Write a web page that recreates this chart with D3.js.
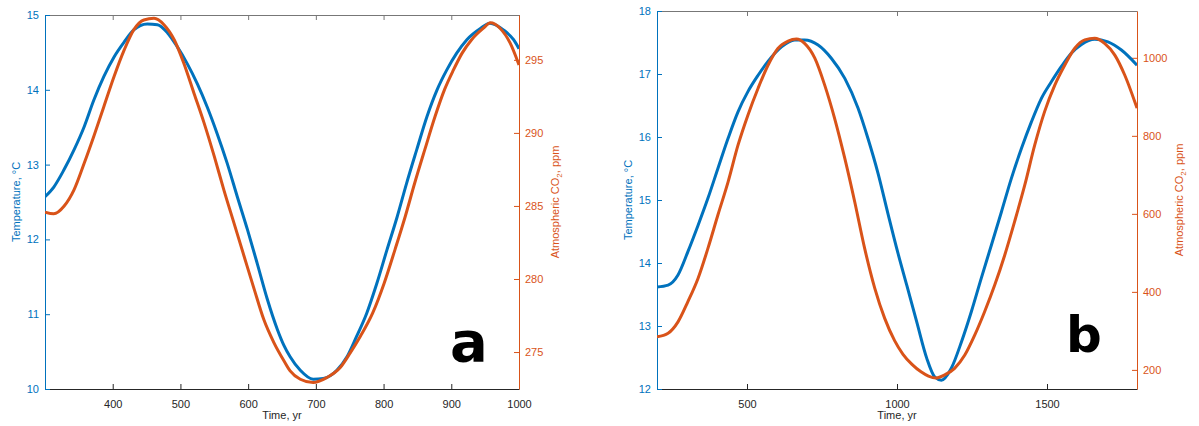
<!DOCTYPE html>
<html lang="en">
<head>
<meta charset="UTF-8">
<script src="https://d3js.org/d3.v7.min.js"></script>
<style>
  body { margin: 0; background: #fff; }
  svg text { font-family: "Liberation Sans", Arial, sans-serif; }
</style>
</head>
<body>
<svg id="chart" width="1199" height="426"></svg>
<script>
// ---- panel a data ----
var aTempYears = [300, 313, 328, 343, 358, 372, 387, 402, 417, 431, 451, 466, 481, 495, 510, 525, 540, 554, 569, 584, 599, 614, 628, 643, 653, 662, 677, 696, 711, 731, 746, 760, 775, 790, 805, 820, 834, 849, 864, 879, 893, 908, 923, 943, 957, 977, 992, 1000];
var aTemp = [12.57, 12.70, 12.93, 13.20, 13.51, 13.86, 14.18, 14.44, 14.64, 14.80, 14.88, 14.87, 14.76, 14.58, 14.35, 14.08, 13.76, 13.42, 13.02, 12.57, 12.13, 11.66, 11.21, 10.80, 10.58, 10.43, 10.25, 10.13, 10.14, 10.25, 10.43, 10.70, 11.01, 11.41, 11.86, 12.30, 12.75, 13.20, 13.64, 14.00, 14.26, 14.49, 14.67, 14.82, 14.89, 14.80, 14.67, 14.55];
var aCo2Years = [300, 313, 328, 343, 358, 372, 387, 402, 417, 431, 446, 461, 476, 491, 505, 520, 535, 550, 564, 579, 594, 609, 623, 638, 653, 662, 677, 696, 716, 736, 751, 766, 784, 801, 817, 832, 846, 861, 876, 890, 903, 916, 930, 947, 958, 972, 987, 1000];
var aCo2 = [284.57, 284.46, 284.98, 286.12, 287.94, 289.76, 291.81, 293.86, 295.68, 297.05, 297.73, 297.84, 297.39, 296.36, 294.77, 292.72, 290.67, 288.39, 286.12, 283.84, 281.56, 279.29, 277.24, 275.65, 274.39, 273.71, 273.14, 272.91, 273.25, 273.94, 274.96, 276.10, 277.68, 279.73, 282.03, 284.28, 286.57, 288.87, 291.12, 292.96, 294.29, 295.46, 296.38, 297.15, 297.54, 297.16, 296.14, 294.65];
var aXTicks = [400, 500, 600, 700, 800, 900, 1000];
var aTempTicks = [10, 11, 12, 13, 14, 15];
var aCo2Ticks = [275, 280, 285, 290, 295];

// ---- panel b data ----
var bTempYears = [200, 237, 270, 303, 337, 370, 403, 437, 470, 503, 537, 570, 615, 659, 692, 737, 781, 826, 870, 903, 937, 970, 1003, 1033, 1066, 1099, 1126, 1148, 1181, 1215, 1248, 1281, 1315, 1348, 1381, 1415, 1448, 1481, 1515, 1548, 1581, 1615, 1659, 1703, 1748, 1800];
var bTemp = [13.62, 13.65, 13.81, 14.18, 14.60, 15.03, 15.50, 15.98, 16.40, 16.72, 16.98, 17.20, 17.43, 17.54, 17.54, 17.46, 17.25, 16.93, 16.46, 15.98, 15.42, 14.78, 14.16, 13.64, 13.06, 12.49, 12.19, 12.14, 12.33, 12.75, 13.23, 13.76, 14.29, 14.81, 15.34, 15.82, 16.24, 16.61, 16.88, 17.12, 17.33, 17.47, 17.55, 17.51, 17.38, 17.14];
var bCo2Years = [200, 237, 270, 303, 337, 370, 403, 437, 470, 503, 537, 570, 603, 637, 665, 692, 726, 759, 792, 826, 859, 892, 926, 959, 992, 1020, 1050, 1080, 1105, 1130, 1159, 1192, 1226, 1259, 1292, 1326, 1359, 1392, 1426, 1459, 1492, 1526, 1559, 1592, 1626, 1659, 1692, 1726, 1759, 1800];
var bCo2 = [285, 294, 323, 375, 435, 512, 597, 682, 776, 853, 922, 981, 1024, 1043, 1048, 1037, 999, 930, 845, 742, 631, 512, 409, 332, 275, 240, 214, 195, 184, 179, 187, 204, 238, 289, 349, 418, 494, 580, 674, 776, 862, 930, 981, 1024, 1046, 1050, 1037, 1007, 956, 871];
var bXTicks = [500, 1000, 1500];
var bTempTicks = [12, 13, 14, 15, 16, 17, 18];
var bCo2Ticks = [200, 400, 600, 800, 1000];

var blue = "#0072BD", orange = "#D95319", dark = "#262626";
var fmt = d3.format("d");
var svg = d3.select("#chart");

function zip(xs, ys) { return xs.map(function (x, i) { return [x, ys[i]]; }); }

function drawPanel(p) {
  var x = d3.scaleLinear().domain(p.xDomain).range([p.left, p.right]);
  var yT = d3.scaleLinear().domain(p.tDomain).range([p.bottom, p.top]);
  var yC = d3.scaleLinear().domain(p.cDomain).range([p.bottom, p.top]);
  var g = svg.append("g");

  g.append("clipPath").attr("id", p.id + "-clip")
    .append("rect").attr("x", p.left).attr("y", p.top)
    .attr("width", p.right - p.left).attr("height", p.bottom - p.top);

  // top border with inward ticks
  g.append("g").attr("transform", "translate(0," + p.top + ")")
    .call(d3.axisTop(x).tickValues(p.xTicks).tickSizeInner(-5).tickSizeOuter(0).tickFormat(""))
    .call(function (s) { s.select(".domain").attr("stroke", "#777"); s.selectAll("line").attr("stroke", "#777"); });

  // bottom axis
  var xa = g.append("g").attr("transform", "translate(0," + p.bottom + ")")
    .call(d3.axisBottom(x).tickValues(p.xTicks).tickFormat(fmt).tickSizeInner(-5).tickSizeOuter(0).tickPadding(11));
  xa.select(".domain").attr("stroke", dark);
  xa.selectAll("line").attr("stroke", dark);
  xa.selectAll("text").attr("fill", dark).style("font-size", "11px");

  // left axis (temperature)
  var la = g.append("g").attr("transform", "translate(" + p.left + ",0)")
    .call(d3.axisLeft(yT).tickValues(p.tTicks).tickFormat(fmt).tickSizeInner(-5).tickSizeOuter(0).tickPadding(6));
  la.select(".domain").attr("stroke", blue);
  la.selectAll("line").attr("stroke", blue);
  la.selectAll("text").attr("fill", blue).style("font-size", "11px");

  // right axis (CO2)
  var ra = g.append("g").attr("transform", "translate(" + p.right + ",0)")
    .call(d3.axisRight(yC).tickValues(p.cTicks).tickFormat(fmt).tickSizeInner(-5).tickSizeOuter(0).tickPadding(6));
  ra.select(".domain").attr("stroke", orange);
  ra.selectAll("line").attr("stroke", orange);
  ra.selectAll("text").attr("fill", orange).style("font-size", "11px");

  var lines = g.append("g").attr("clip-path", "url(#" + p.id + "-clip)");
  lines.append("path")
    .datum(zip(p.tYears, p.temp))
    .attr("fill", "none").attr("stroke", blue).attr("stroke-width", 3)
    .attr("d", d3.line().x(function (d) { return x(d[0]); }).y(function (d) { return yT(d[1]); }).curve(d3.curveMonotoneX));
  lines.append("path")
    .datum(zip(p.cYears, p.co2))
    .attr("fill", "none").attr("stroke", orange).attr("stroke-width", 3)
    .attr("d", d3.line().x(function (d) { return x(d[0]); }).y(function (d) { return yC(d[1]); }).curve(d3.curveMonotoneX));

  var midY = (p.top + p.bottom) / 2;
  g.append("text").attr("x", (p.left + p.right) / 2).attr("y", 419)
    .attr("text-anchor", "middle").attr("fill", dark).style("font-size", "11px")
    .text("Time, yr");

  g.append("text").attr("transform", "translate(" + p.tLabelX + "," + midY + ") rotate(-90)")
    .attr("text-anchor", "middle").attr("fill", blue).style("font-size", "11px")
    .text("Temperature, \u00B0C");

  var ct = g.append("text").attr("transform", "translate(" + p.cLabelX + "," + midY + ") rotate(-90)")
    .attr("text-anchor", "middle").attr("fill", orange).style("font-size", "11px");
  ct.append("tspan").text("Atmospheric CO");
  ct.append("tspan").attr("dy", 3).style("font-size", "8px").text("2");
  ct.append("tspan").attr("dy", -3).text(", ppm");

  g.append("text").attr("x", p.tagX).attr("y", p.tagY)
    .attr("fill", "#000").style("font-family", "'DejaVu Sans', sans-serif")
    .style("font-weight", "bold").style("font-size", p.tagSize + "px")
    .text(p.tag);
}

drawPanel({
  id: "a", left: 45, right: 519, top: 15, bottom: 389,
  xDomain: [300, 1000], tDomain: [10, 15], cDomain: [272.47, 298.07],
  xTicks: aXTicks, tTicks: aTempTicks, cTicks: aCo2Ticks,
  tYears: aTempYears, temp: aTemp, cYears: aCo2Years, co2: aCo2,
  tLabelX: 20, cLabelX: 559, tag: "a", tagX: 450, tagY: 361, tagSize: 56
});

drawPanel({
  id: "b", left: 657, right: 1137, top: 11, bottom: 389,
  xDomain: [200, 1800], tDomain: [12, 18], cDomain: [151, 1120],
  xTicks: bXTicks, tTicks: bTempTicks, cTicks: bCo2Ticks,
  tYears: bTempYears, temp: bTemp, cYears: bCo2Years, co2: bCo2,
  tLabelX: 632, cLabelX: 1183, tag: "b", tagX: 1066, tagY: 352, tagSize: 50
});
</script>
</body>
</html>
